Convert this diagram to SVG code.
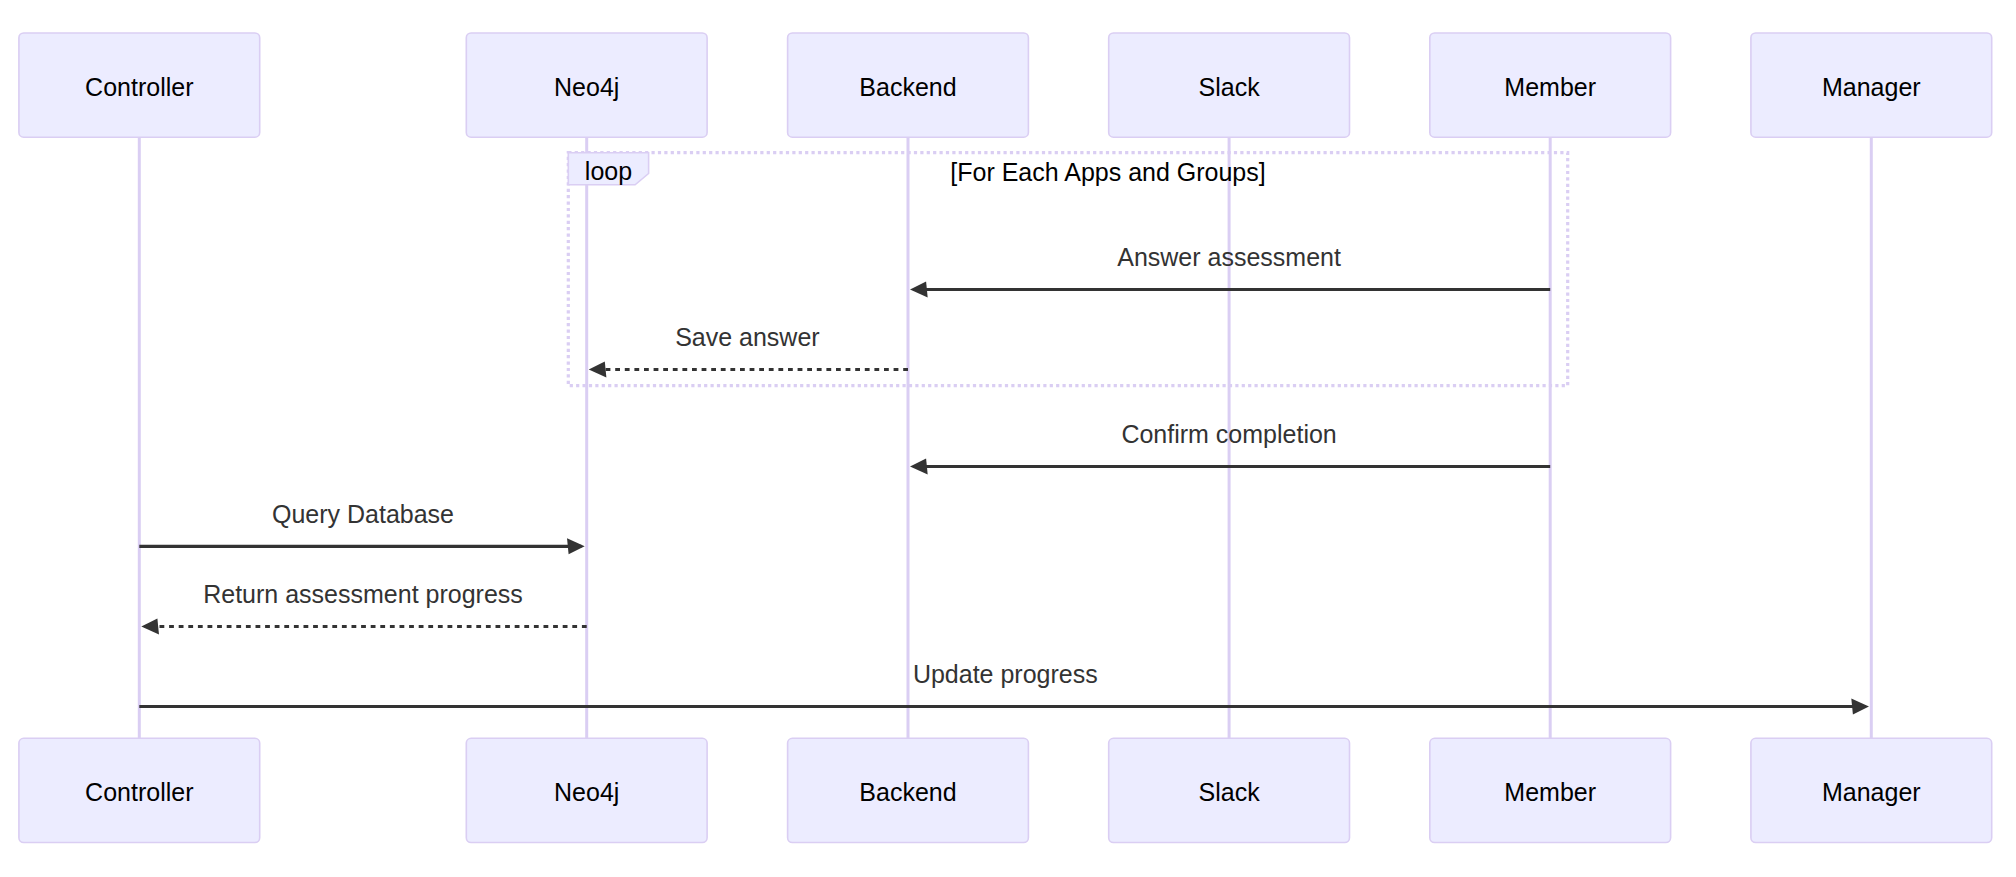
<svg xmlns="http://www.w3.org/2000/svg" width="2016" height="877" viewBox="0 0 2016 877">
<style>
.actor{fill:#ECECFF;stroke:#DACEF3;stroke-width:1.6}
.atext{font-family:"Liberation Sans",Arial,sans-serif;font-size:25px;fill:#000;text-anchor:middle}
.life{stroke:#DACEF3;stroke-width:3;fill:none}
.loop{stroke:#DACEF3;stroke-width:3.2;stroke-dasharray:3.2 3.2;fill:none}
.lbox{fill:#ECECFF;stroke:#DACEF3;stroke-width:1.6}
.ltext{font-family:"Liberation Sans",Arial,sans-serif;font-size:25px;fill:#000;text-anchor:middle}
.msg{stroke:#333;stroke-width:3.2;fill:none;marker-end:url(#ah)}
.dash{stroke-dasharray:4.8 4.8}
.mtext{font-family:"Liberation Sans",Arial,sans-serif;font-size:25px;fill:#333;text-anchor:middle}
</style>
<defs>
<marker id="ah" viewBox="0 0 12 12" markerUnits="userSpaceOnUse" markerWidth="19.27" markerHeight="19.27" refX="7.9" refY="5" orient="auto" overflow="visible">
<path d="M -1 0 L 10 5 L 0 10 z" fill="#333"/>
</marker>
</defs>
<rect width="2016" height="877" fill="#fff"/>
<g id="lifelines">
<line class="life" x1="139.3" y1="137" x2="139.3" y2="739"/>
<line class="life" x1="586.7" y1="137" x2="586.7" y2="739"/>
<line class="life" x1="908" y1="137" x2="908" y2="739"/>
<line class="life" x1="1229.1" y1="137" x2="1229.1" y2="739"/>
<line class="life" x1="1550.2" y1="137" x2="1550.2" y2="739"/>
<line class="life" x1="1871.3" y1="137" x2="1871.3" y2="739"/>
</g>
<g id="loop">
<rect class="loop" x="568.3" y="152.7" width="999.4" height="233"/>
<polygon class="lbox" points="568.3,152.7 648.6,152.7 648.6,173.5 635.1,184.8 568.3,184.8"/>
<text class="ltext" x="608.5" y="179.5">loop</text>
<text class="ltext" x="1108" y="181">[For Each Apps and Groups]</text>
</g>
<g id="connectors">
<line class="msg" x1="1550.2" y1="289.5" x2="913.4" y2="289.5"/>
<text class="mtext" x="1229.1" y="266.3">Answer assessment</text>
<line class="msg dash" x1="908" y1="369.5" x2="592.1" y2="369.5"/>
<text class="mtext" x="747.4" y="346.3">Save answer</text>
<line class="msg" x1="1550.2" y1="466.5" x2="913.4" y2="466.5"/>
<text class="mtext" x="1229.1" y="443.3">Confirm completion</text>
<line class="msg" x1="139.3" y1="546.3" x2="581.3" y2="546.3"/>
<text class="mtext" x="363" y="523.1">Query Database</text>
<line class="msg dash" x1="586.7" y1="626.5" x2="144.7" y2="626.5"/>
<text class="mtext" x="363" y="603.3">Return assessment progress</text>
<line class="msg" x1="139.3" y1="706.5" x2="1865.6" y2="706.5"/>
<text class="mtext" x="1005.3" y="683.3">Update progress</text>
</g>
<g id="controller-top"><rect class="actor" x="18.9" y="33" width="240.8" height="104.2" rx="4.8"/><text class="atext" x="139.3" y="95.5">Controller</text></g>
<g id="neo4j-top"><rect class="actor" x="466.3" y="33" width="240.8" height="104.2" rx="4.8"/><text class="atext" x="586.7" y="95.5">Neo4j</text></g>
<g id="backend-top"><rect class="actor" x="787.6" y="33" width="240.8" height="104.2" rx="4.8"/><text class="atext" x="908" y="95.5">Backend</text></g>
<g id="slack-top"><rect class="actor" x="1108.7" y="33" width="240.8" height="104.2" rx="4.8"/><text class="atext" x="1229.1" y="95.5">Slack</text></g>
<g id="member-top"><rect class="actor" x="1429.8" y="33" width="240.8" height="104.2" rx="4.8"/><text class="atext" x="1550.2" y="95.5">Member</text></g>
<g id="manager-top"><rect class="actor" x="1750.9" y="33" width="240.8" height="104.2" rx="4.8"/><text class="atext" x="1871.3" y="95.5">Manager</text></g>
<g id="controller-bottom"><rect class="actor" x="18.9" y="738.3" width="240.8" height="104.2" rx="4.8"/><text class="atext" x="139.3" y="800.8">Controller</text></g>
<g id="neo4j-bottom"><rect class="actor" x="466.3" y="738.3" width="240.8" height="104.2" rx="4.8"/><text class="atext" x="586.7" y="800.8">Neo4j</text></g>
<g id="backend-bottom"><rect class="actor" x="787.6" y="738.3" width="240.8" height="104.2" rx="4.8"/><text class="atext" x="908" y="800.8">Backend</text></g>
<g id="slack-bottom"><rect class="actor" x="1108.7" y="738.3" width="240.8" height="104.2" rx="4.8"/><text class="atext" x="1229.1" y="800.8">Slack</text></g>
<g id="member-bottom"><rect class="actor" x="1429.8" y="738.3" width="240.8" height="104.2" rx="4.8"/><text class="atext" x="1550.2" y="800.8">Member</text></g>
<g id="manager-bottom"><rect class="actor" x="1750.9" y="738.3" width="240.8" height="104.2" rx="4.8"/><text class="atext" x="1871.3" y="800.8">Manager</text></g>
</svg>
